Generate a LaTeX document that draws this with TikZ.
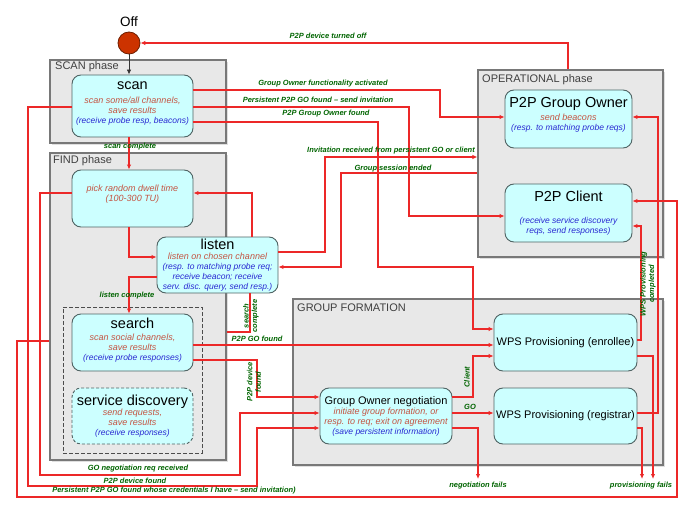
\documentclass[tikz,border=0pt]{standalone}
\usepackage{fontspec}
\setmainfont{Liberation Sans}
\usetikzlibrary{arrows.meta,shadows}

\definecolor{phasefill}{RGB}{232,232,232}
\definecolor{phaseline}{RGB}{120,120,120}
\definecolor{statefill}{RGB}{204,255,255}
\definecolor{stateline}{RGB}{80,100,100}
\definecolor{actorange}{RGB}{196,84,66}
\definecolor{actblue}{RGB}{40,40,210}
\definecolor{lblgreen}{RGB}{0,100,0}
\definecolor{linered}{RGB}{236,40,40}
\definecolor{offred}{RGB}{204,51,0}
\definecolor{offline}{RGB}{110,30,0}

\newcommand{\ttl}[1]{{\fontsize{14.5}{15}\selectfont #1}}
\newcommand{\wps}[1]{{\fontsize{11}{12}\selectfont #1}}
\newcommand{\act}[1]{{\color{actorange}\itshape #1}}
\newcommand{\rcv}[1]{{\color{actblue}\itshape\fontsize{8.5}{10}\selectfont #1}}

\begin{document}
\begin{tikzpicture}[x=1pt, y=-1pt,
  phase/.style={rectangle, draw=phaseline, fill=phasefill, line width=1.2pt,
    drop shadow={shadow xshift=2pt, shadow yshift=-2pt, fill=black!25}},
  phasetxt/.style={anchor=north west, inner sep=0pt, font=\fontsize{11}{12}\selectfont, text=black!75},
  stbox/.style={rectangle, rounded corners=9pt, draw=stateline, fill=statefill, line width=0.9pt,
    align=center, inner sep=0pt, font=\fontsize{9}{10}\selectfont},
  conn/.style={draw=linered, line width=1.1pt, -{Latex[length=5pt,width=4.5pt]}},
  wire/.style={draw=linered, line width=1.1pt},
  lbl/.style={text=lblgreen, inner sep=0pt, font=\fontsize{7.5}{8.5}\selectfont\bfseries\itshape, align=center}]
  \useasboundingbox (0,0) rectangle (686,508);

  % Off
  \node[circle, fill=offred, draw=offline, line width=0.8pt, minimum size=22pt, inner sep=0pt] (off) at (129,43) {};
  \node[font=\fontsize{13.5}{14}\selectfont, inner sep=0pt] (offT) at (129,22) {Off};

  % SCAN phase
  \node[phase, minimum width=176pt, minimum height=83pt] (scanph) at (138,101.5) {};
  \node[phasetxt] (scanphT) at (55,61) {SCAN phase};

  % FIND phase
  \node[phase, minimum width=176pt, minimum height=307pt] (findph) at (138,306.5) {};
  \node[phasetxt] (findphT) at (53,155) {FIND phase};
  \node[draw=black!70, line width=0.9pt, dash pattern=on 4pt off 2pt, minimum width=139pt, minimum height=146pt] (sdgroup) at (132.5,380) {};

  % OPERATIONAL phase
  \node[phase, minimum width=185pt, minimum height=187pt] (opph) at (570.5,163.5) {};
  \node[phasetxt] (opphT) at (482,74) {OPERATIONAL phase};

  % GROUP FORMATION
  \node[phase, minimum width=370pt, minimum height=166pt] (gfph) at (478,382) {};
  \node[phasetxt] (gfphT) at (297,304) {GROUP FORMATION};

  % states
  \node[stbox, minimum width=121pt, minimum height=62pt] (scan) at (132.5,106)
    {\ttl{scan}\\[4pt] \act{scan some/all channels,}\\ \act{save results}\\ \rcv{(receive probe resp, beacons)}\\[-4pt]{}};
  \node[stbox, minimum width=121pt, minimum height=57pt] (pick) at (132.5,198.5)
    {\act{pick random dwell time}\\ \act{(100-300 TU)}\\{}};
  \node[stbox, minimum width=121pt, minimum height=56pt] (listen) at (217.5,265)
    {\ttl{listen}\\ \act{listen on chosen channel}\\ \rcv{(resp. to matching probe req;}\\ \rcv{receive beacon; receive}\\ \rcv{serv. disc. query, send resp.)}};
  \node[stbox, minimum width=121pt, minimum height=57pt] (search) at (132.5,342.5)
    {\ttl{search}\\[2pt] \act{scan social channels,}\\ \act{save results}\\ \rcv{(receive probe responses)}\\[-4pt]{}};
  \node[stbox, dash pattern=on 3pt off 2pt, minimum width=121pt, minimum height=56pt] (sd) at (132.5,416)
    {\ttl{service discovery}\\ \act{send requests,}\\ \act{save results}\\ \rcv{(receive responses)}};
  \node[stbox, minimum width=127pt, minimum height=58pt] (pgo) at (568.5,119)
    {\ttl{P2P Group Owner}\\[3pt] \act{send beacons}\\ \rcv{(resp. to matching probe reqs)}\\{}};
  \node[stbox, minimum width=127pt, minimum height=58pt] (pcl) at (568.5,213)
    {\ttl{P2P Client}\\[12pt] \rcv{(receive service discovery}\\ \rcv{reqs, send responses)}};
  \node[stbox, minimum width=143pt, minimum height=57pt] (enr) at (565.5,342.5)
    {\wps{WPS Provisioning (enrollee)}};
  \node[stbox, minimum width=143pt, minimum height=56pt] (reg) at (565.5,416)
    {\wps{WPS Provisioning (registrar)}};
  \node[stbox, minimum width=132pt, minimum height=56pt] (neg) at (386,416)
    {\wps{Group Owner negotiation}\\ \act{initiate group formation, or}\\ \act{resp. to req; exit on agreement}\\ \rcv{(save persistent information)}};

  % free ends
  \coordinate (negfail) at (478,479);
  \coordinate (provfailA) at (642,479);
  \coordinate (provfailB) at (653,479);

  % Off -> scan, scan -> pick
  \draw[draw=black!80, line width=0.8pt, -{Latex[length=5pt,width=4.5pt]}] (off.south) -- (off.south |- scan.north);
  \draw[conn] (scan.south -| 129,0) -- (pick.north -| 129,0);
  \node[lbl] (lScanDone) at (130,147) {scan complete};

  % device turned off
  \draw[conn] (opph.north -| 568,0) |- (off.east);
  \node[lbl] (lOff) at (328,36) {P2P device turned off};

  % scan -> operational / group formation
  \draw[conn] (scan.east |- 0,90) -| (440,117) -- (pgo.west |- 0,117);
  \node[lbl] (lGoAct) at (323,84) {Group Owner functionality activated};
  \draw[conn] (scan.east |- 0,107) -| (409,216) -- (pcl.west |- 0,216);
  \node[lbl] (lPersInv) at (318,100) {Persistent P2P GO found -- send invitation};
  \draw[conn] (scan.east |- 0,122) -| (378,267) -| (473,329) -- (enr.west |- 0,329);
  \node[lbl] (lGoFound) at (326,114) {P2P Group Owner found};

  % listen <-> operational
  \draw[conn] (listen.east |- 0,252) -| (325,157) -- (opph.west |- 0,157);
  \node[lbl] (lInvite) at (391,151) {Invitation received from persistent GO or client};
  \draw[conn] (opph.west |- 0,173) -| (341,267) -- (listen.east |- 0,267);
  \node[lbl] (lEnded) at (393,169) {Group session ended};

  % find phase loop
  \draw[conn] (pick.south -| 129,0) |- (listen.west |- 0,257);
  \draw[conn] (listen.north -| 252,0) |- (pick.east |- 0,193);
  \draw[conn] (listen.west |- 0,277) -| (search.north -| 129,0);
  \node[lbl] (lListenDone) at (127,296) {listen complete};
  \draw[wire] (listen.south -| 250,0) |- (findph.east |- 0,332);
  \node[lbl, rotate=90] (lSearchDone) at (251,316) {search\\complete};

  % search -> group formation
  \draw[conn] (search.east |- 0,345) -- (enr.west |- 0,345);
  \node[lbl] (lGoFound2) at (257,339) {P2P GO found};
  \draw[conn] (search.east |- 0,360) -| (257,397) -- (neg.west |- 0,397);
  \node[lbl, rotate=90] (lDevFound) at (254,382) {P2P device\\found};

  % negotiation results
  \draw[conn] (neg.east |- 0,397) -| (473,356) -- (enr.west |- 0,356);
  \node[lbl, rotate=90] (lClient) at (467,377) {Client};
  \draw[conn] (neg.east |- 0,413) -- (reg.west |- 0,413);
  \node[lbl] (lGO) at (470,407) {GO};
  \draw[conn] (neg.east |- 0,428) -| (negfail);
  \node[lbl] (lNegFail) at (478,486) {negotiation fails};

  % provisioning results
  \draw[conn] (reg.east |- 0,428) -| (provfailA);
  \draw[conn] (enr.east |- 0,356) -| (provfailB);
  \node[lbl] (lProvFail) at (641,486) {provisioning fails};
  \draw[conn] (enr.east |- 0,340) -| (641,226) -- (pcl.east |- 0,226);
  \node[lbl, rotate=90] (lProvDone) at (648,284) {WPS Provisioning\\completed};
  \draw[conn] (reg.east |- 0,413) -| (658,117) -- (pgo.east |- 0,117);

  % outer loops
  \draw[conn] (pick.west |- 0,193) -| (40,475) -| (240,413) -- (neg.west |- 0,413);
  \node[lbl] (lNegReq) at (138,469) {GO negotiation req received};
  \draw[conn] (scan.west |- 0,107) -| (28,486) -| (257,428) -- (neg.west |- 0,428);
  \node[lbl] (lDevFound2) at (135,481) {P2P device found};
  \draw[conn] (findph.west |- 0,341) -| (17,497) -| (677,201) -- (pcl.east |- 0,201);
  \node[lbl] (lCred) at (174,491) {Persistent P2P GO found whose credentials I have -- send invitation)};
\end{tikzpicture}
\end{document}
